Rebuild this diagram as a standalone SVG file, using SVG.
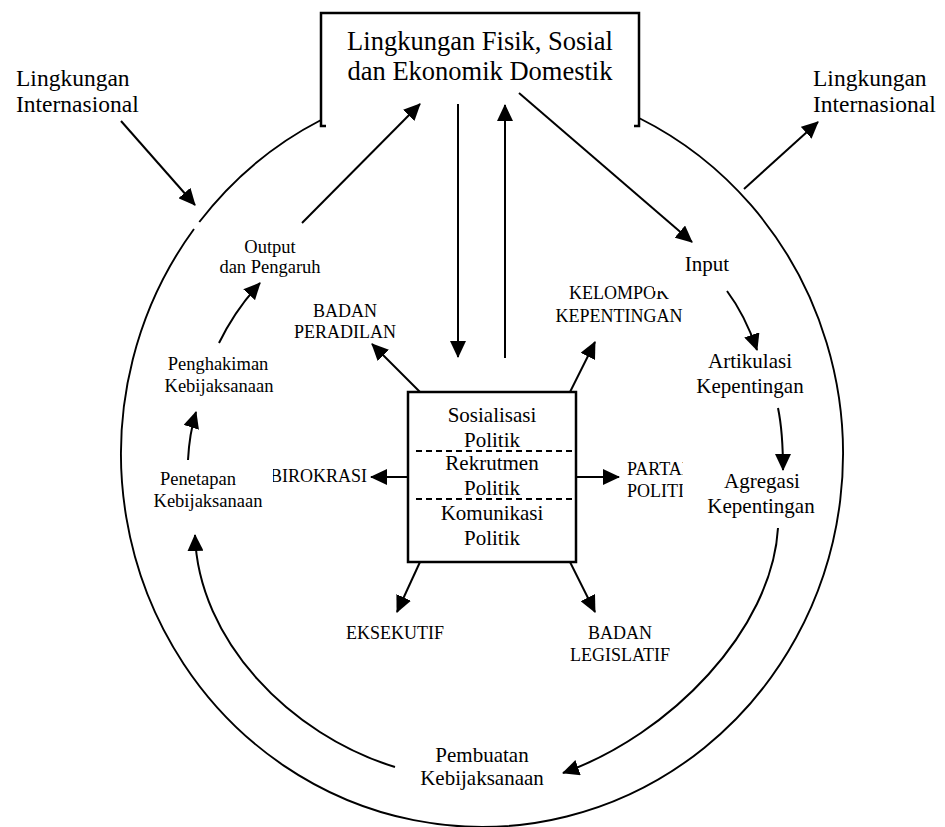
<svg xmlns="http://www.w3.org/2000/svg" width="945" height="827" viewBox="0 0 945 827">
<style>
text{font-family:"Liberation Serif","Times New Roman",serif;fill:#000}
.t26{font-size:26.5px}
.t23{font-size:23.5px}
.t21{font-size:21px}
.t18{font-size:18.5px}
.cap{font-size:18px}
.mid{text-anchor:middle}
.arw{fill:none;stroke:#000;stroke-width:2;marker-end:url(#ah)}
.ring{fill:none;stroke:#000;stroke-width:1.9}
.dash{stroke:#000;stroke-width:2;stroke-dasharray:6,4}
</style>
<defs>
<marker id="ah" markerUnits="userSpaceOnUse" markerWidth="17" markerHeight="16" viewBox="0 0 17 16" refX="16" refY="8" orient="auto">
<path d="M0,0 L17,8 L0,16 Z" fill="#000"/>
</marker>
<clipPath id="clipBiro"><rect x="273" y="455" width="100" height="35"/></clipPath>
<clipPath id="clipPartai"><rect x="620" y="455" width="63" height="50"/></clipPath>
<clipPath id="clipKel"><path d="M540,270 L654,270 L654,291 L685,291 L685,330 L540,330 Z"/></clipPath>
</defs>
<rect width="945" height="827" fill="#fff"/>

<g id="ring">
<path class="ring" d="M321,120 A361,373 0 0 0 199.3,222"/>
<path class="ring" d="M194,229 A361,373 0 1 0 639,118"/>
</g>

<g id="domestik">
<path d="M326,126 L321,126 L321,13 L639,13 L639,126 L634,126" fill="none" stroke="#000" stroke-width="2.5"/>
<text class="t26 mid" x="480" y="50">Lingkungan Fisik, Sosial</text>
<text class="t26 mid" x="480" y="80">dan Ekonomik Domestik</text>
</g>

<g id="intl-left">
<text class="t23" x="16" y="86">Lingkungan</text>
<text class="t23" x="16" y="112">Internasional</text>
</g>
<g id="intl-right">
<text class="t23" x="813" y="86">Lingkungan</text>
<text class="t23" x="813" y="112">Internasional</text>
</g>

<g id="output"><text class="t18 mid" x="270" y="253">Output</text><text class="t18 mid" x="270" y="273">dan Pengaruh</text></g>
<g id="penghakiman"><text class="t18 mid" x="218" y="370">Penghakiman</text><text class="t18 mid" x="219" y="392">Kebijaksanaan</text></g>
<g id="penetapan"><text class="t18 mid" x="198" y="485">Penetapan</text><text class="t18 mid" x="208" y="507">Kebijaksanaan</text></g>

<g id="input"><text class="t21 mid" x="707" y="271">Input</text></g>
<g id="artikulasi"><text class="t21 mid" x="750" y="368">Artikulasi</text><text class="t21 mid" x="750" y="393">Kepentingan</text></g>
<g id="agregasi"><text class="t21 mid" x="762" y="488">Agregasi</text><text class="t21 mid" x="761" y="513">Kepentingan</text></g>
<g id="pembuatan"><text class="t21 mid" x="482" y="762">Pembuatan</text><text class="t21 mid" x="482" y="785">Kebijaksanaan</text></g>

<g id="sistem">
<rect x="408" y="392" width="168" height="170" fill="#fff" stroke="#000" stroke-width="2.5"/>
<line class="dash" x1="416" y1="451" x2="576" y2="451"/>
<line class="dash" x1="416" y1="499" x2="576" y2="499"/>
<text class="t21 mid" x="492" y="422">Sosialisasi</text>
<text class="t21 mid" x="492" y="447">Politik</text>
<text class="t21 mid" x="492" y="470">Rekrutmen</text>
<text class="t21 mid" x="492" y="495">Politik</text>
<text class="t21 mid" x="492" y="520">Komunikasi</text>
<text class="t21 mid" x="492" y="545">Politik</text>
</g>

<g id="peradilan"><text class="cap mid" x="345" y="317">BADAN</text><text class="cap mid" x="345" y="338">PERADILAN</text></g>
<g id="kelompok" clip-path="url(#clipKel)"><text class="cap mid" x="619" y="299">KELOMPOK</text><text class="cap mid" x="619" y="322">KEPENTINGAN</text></g>
<g id="birokrasi" clip-path="url(#clipBiro)"><text class="cap" x="367" y="482" text-anchor="end">BIROKRASI</text></g>
<g id="partai" clip-path="url(#clipPartai)"><text class="cap" x="627" y="475">PARTAI</text><text class="cap" x="627" y="497">POLITIK</text></g>
<g id="eksekutif"><text class="cap mid" x="395" y="639">EKSEKUTIF</text></g>
<g id="legislatif"><text class="cap mid" x="620" y="639">BADAN</text><text class="cap mid" x="620" y="661">LEGISLATIF</text></g>

<g id="connectors">
<line class="arw" x1="121" y1="121" x2="195" y2="205"/>
<line class="arw" x1="744" y1="189" x2="818" y2="122"/>
<line class="arw" x1="302" y1="223" x2="420" y2="104"/>
<line class="arw" x1="458" y1="104" x2="458" y2="357"/>
<line class="arw" x1="505" y1="358" x2="505" y2="105"/>
<line class="arw" x1="519" y1="93" x2="692" y2="242"/>
<line class="arw" x1="420" y1="392" x2="372" y2="344"/>
<line class="arw" x1="570" y1="392" x2="595" y2="342"/>
<line class="arw" x1="408" y1="477" x2="371" y2="477"/>
<line class="arw" x1="576" y1="477" x2="619" y2="477"/>
<line class="arw" x1="420" y1="562" x2="397" y2="612"/>
<line class="arw" x1="570" y1="562" x2="595" y2="612"/>
<path class="arw" d="M727,291 Q745,315 757,350"/>
<path class="arw" d="M778,408 Q783,432 783,470"/>
<path class="arw" d="M778,528 C772,630 670,735 563,773"/>
<path class="arw" d="M395,767 C290,735 198,640 195,535"/>
<path class="arw" d="M188,460 C189,440 192,425 196,412"/>
<path class="arw" d="M219,343 Q235,310 260,283"/>
</g>
</svg>
